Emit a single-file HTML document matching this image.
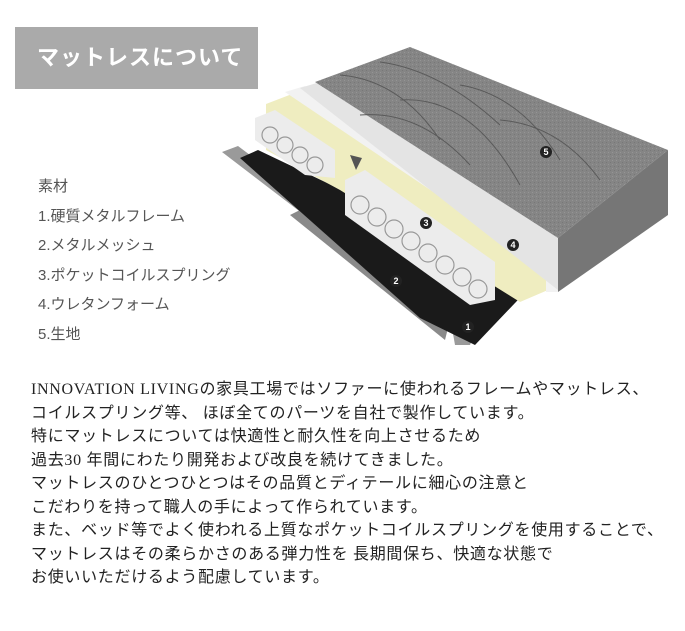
<!DOCTYPE html>
<html><head><meta charset="utf-8"><style>
body{margin:0;width:685px;height:631px;background:#fff;position:relative;overflow:hidden;font-family:"Liberation Sans","Noto Sans CJK JP",sans-serif;}
.hd{position:absolute;left:15px;top:27px;width:243px;height:62px;background:#aaa;color:#fff;font-size:22px;font-weight:bold;line-height:62px;text-indent:22px;letter-spacing:1px;}
.list{position:absolute;left:38px;top:172px;color:#555;font-size:15px;line-height:29.6px;}
.p{position:absolute;left:31px;top:378px;color:#222;font-size:16px;letter-spacing:0.7px;line-height:23.5px;font-family:"Liberation Serif","Noto Sans CJK JP",serif;white-space:nowrap;}
</style></head><body>
<div class="hd">マットレスについて</div>
<svg style="position:absolute;left:0;top:0" width="685" height="631">
<defs><pattern id="f" width="4" height="4" patternUnits="userSpaceOnUse"><rect width="4" height="4" fill="#858585"/><rect width="1" height="1" fill="#959595"/><rect x="2" y="2" width="1" height="1" fill="#777"/></pattern></defs>
<polygon points="222,152 238,146 478,326 470,345 455,345 452,328" fill="#9a9a9a"/>
<polygon points="290,215 310,205 450,320 445,340" fill="#8a8a8a"/>
<polygon points="240,158 258,150 535,282 475,345 420,318" fill="#1a1a1a"/>
<polygon points="266,104 292,94 548,268 548,290 520,302 340,190 266,150" fill="#efedc0"/>
<polygon points="285,92 305,86 558,238 558,292 546,292 546,268" fill="#f2f2f2"/>
<polygon points="300,88 320,82 560,235 558,290" fill="#e4e4e4"/>
<polygon points="315,82 410,47 668,150 558,238" fill="url(#f)"/>
<polygon points="558,238 668,150 668,215 558,292" fill="#767676"/>
<g stroke="#5a5a5a" stroke-width="1" fill="none">
<path d="M340,75 Q400,80 440,140 M380,62 Q440,70 500,125 M400,100 Q470,95 520,185 M360,115 Q420,110 470,165 M460,85 Q520,95 560,160 M500,120 Q560,125 600,180"/>
</g>
<polygon points="255,118 275,110 335,150 335,178 305,175 255,140" fill="#ececec"/>
<polygon points="345,180 365,170 495,262 495,300 470,305 345,215" fill="#ececec"/>
<g fill="none" stroke="#999" stroke-width="1.2">
<circle cx="270" cy="135" r="8"/><circle cx="285" cy="145" r="8"/><circle cx="300" cy="155" r="8"/><circle cx="315" cy="165" r="8"/>
<circle cx="360" cy="205" r="9"/><circle cx="377" cy="217" r="9"/><circle cx="394" cy="229" r="9"/><circle cx="411" cy="241" r="9"/><circle cx="428" cy="253" r="9"/><circle cx="445" cy="265" r="9"/><circle cx="462" cy="277" r="9"/><circle cx="478" cy="289" r="9"/>
</g>
<polygon points="350,155 362,158 356,170" fill="#555"/>
<g font-size="9" font-weight="bold" text-anchor="middle" fill="#fff">
<circle cx="468" cy="327" r="6" fill="#222"/><text x="468" y="330">1</text>
<circle cx="396" cy="281" r="6" fill="#222"/><text x="396" y="284">2</text>
<circle cx="426" cy="223" r="6" fill="#222"/><text x="426" y="226">3</text>
<circle cx="513" cy="245" r="6" fill="#222"/><text x="513" y="248">4</text>
<circle cx="546" cy="152" r="6" fill="#222"/><text x="546" y="155">5</text>
</g>
</svg>
<div class="list">素材<br>1.硬質メタルフレーム<br>2.メタルメッシュ<br>3.ポケットコイルスプリング<br>4.ウレタンフォーム<br>5.生地</div>
<div class="p">INNOVATION LIVINGの家具工場ではソファーに使われるフレームやマットレス、<br>コイルスプリング等、 ほぼ全てのパーツを自社で製作しています。<br>特にマットレスについては快適性と耐久性を向上させるため<br>過去30 年間にわたり開発および改良を続けてきました。<br>マットレスのひとつひとつはその品質とディテールに細心の注意と<br>こだわりを持って職人の手によって作られています。<br>また、ベッド等でよく使われる上質なポケットコイルスプリングを使用することで、<br>マットレスはその柔らかさのある弾力性を 長期間保ち、快適な状態で<br>お使いいただけるよう配慮しています。</div>
</body></html>
